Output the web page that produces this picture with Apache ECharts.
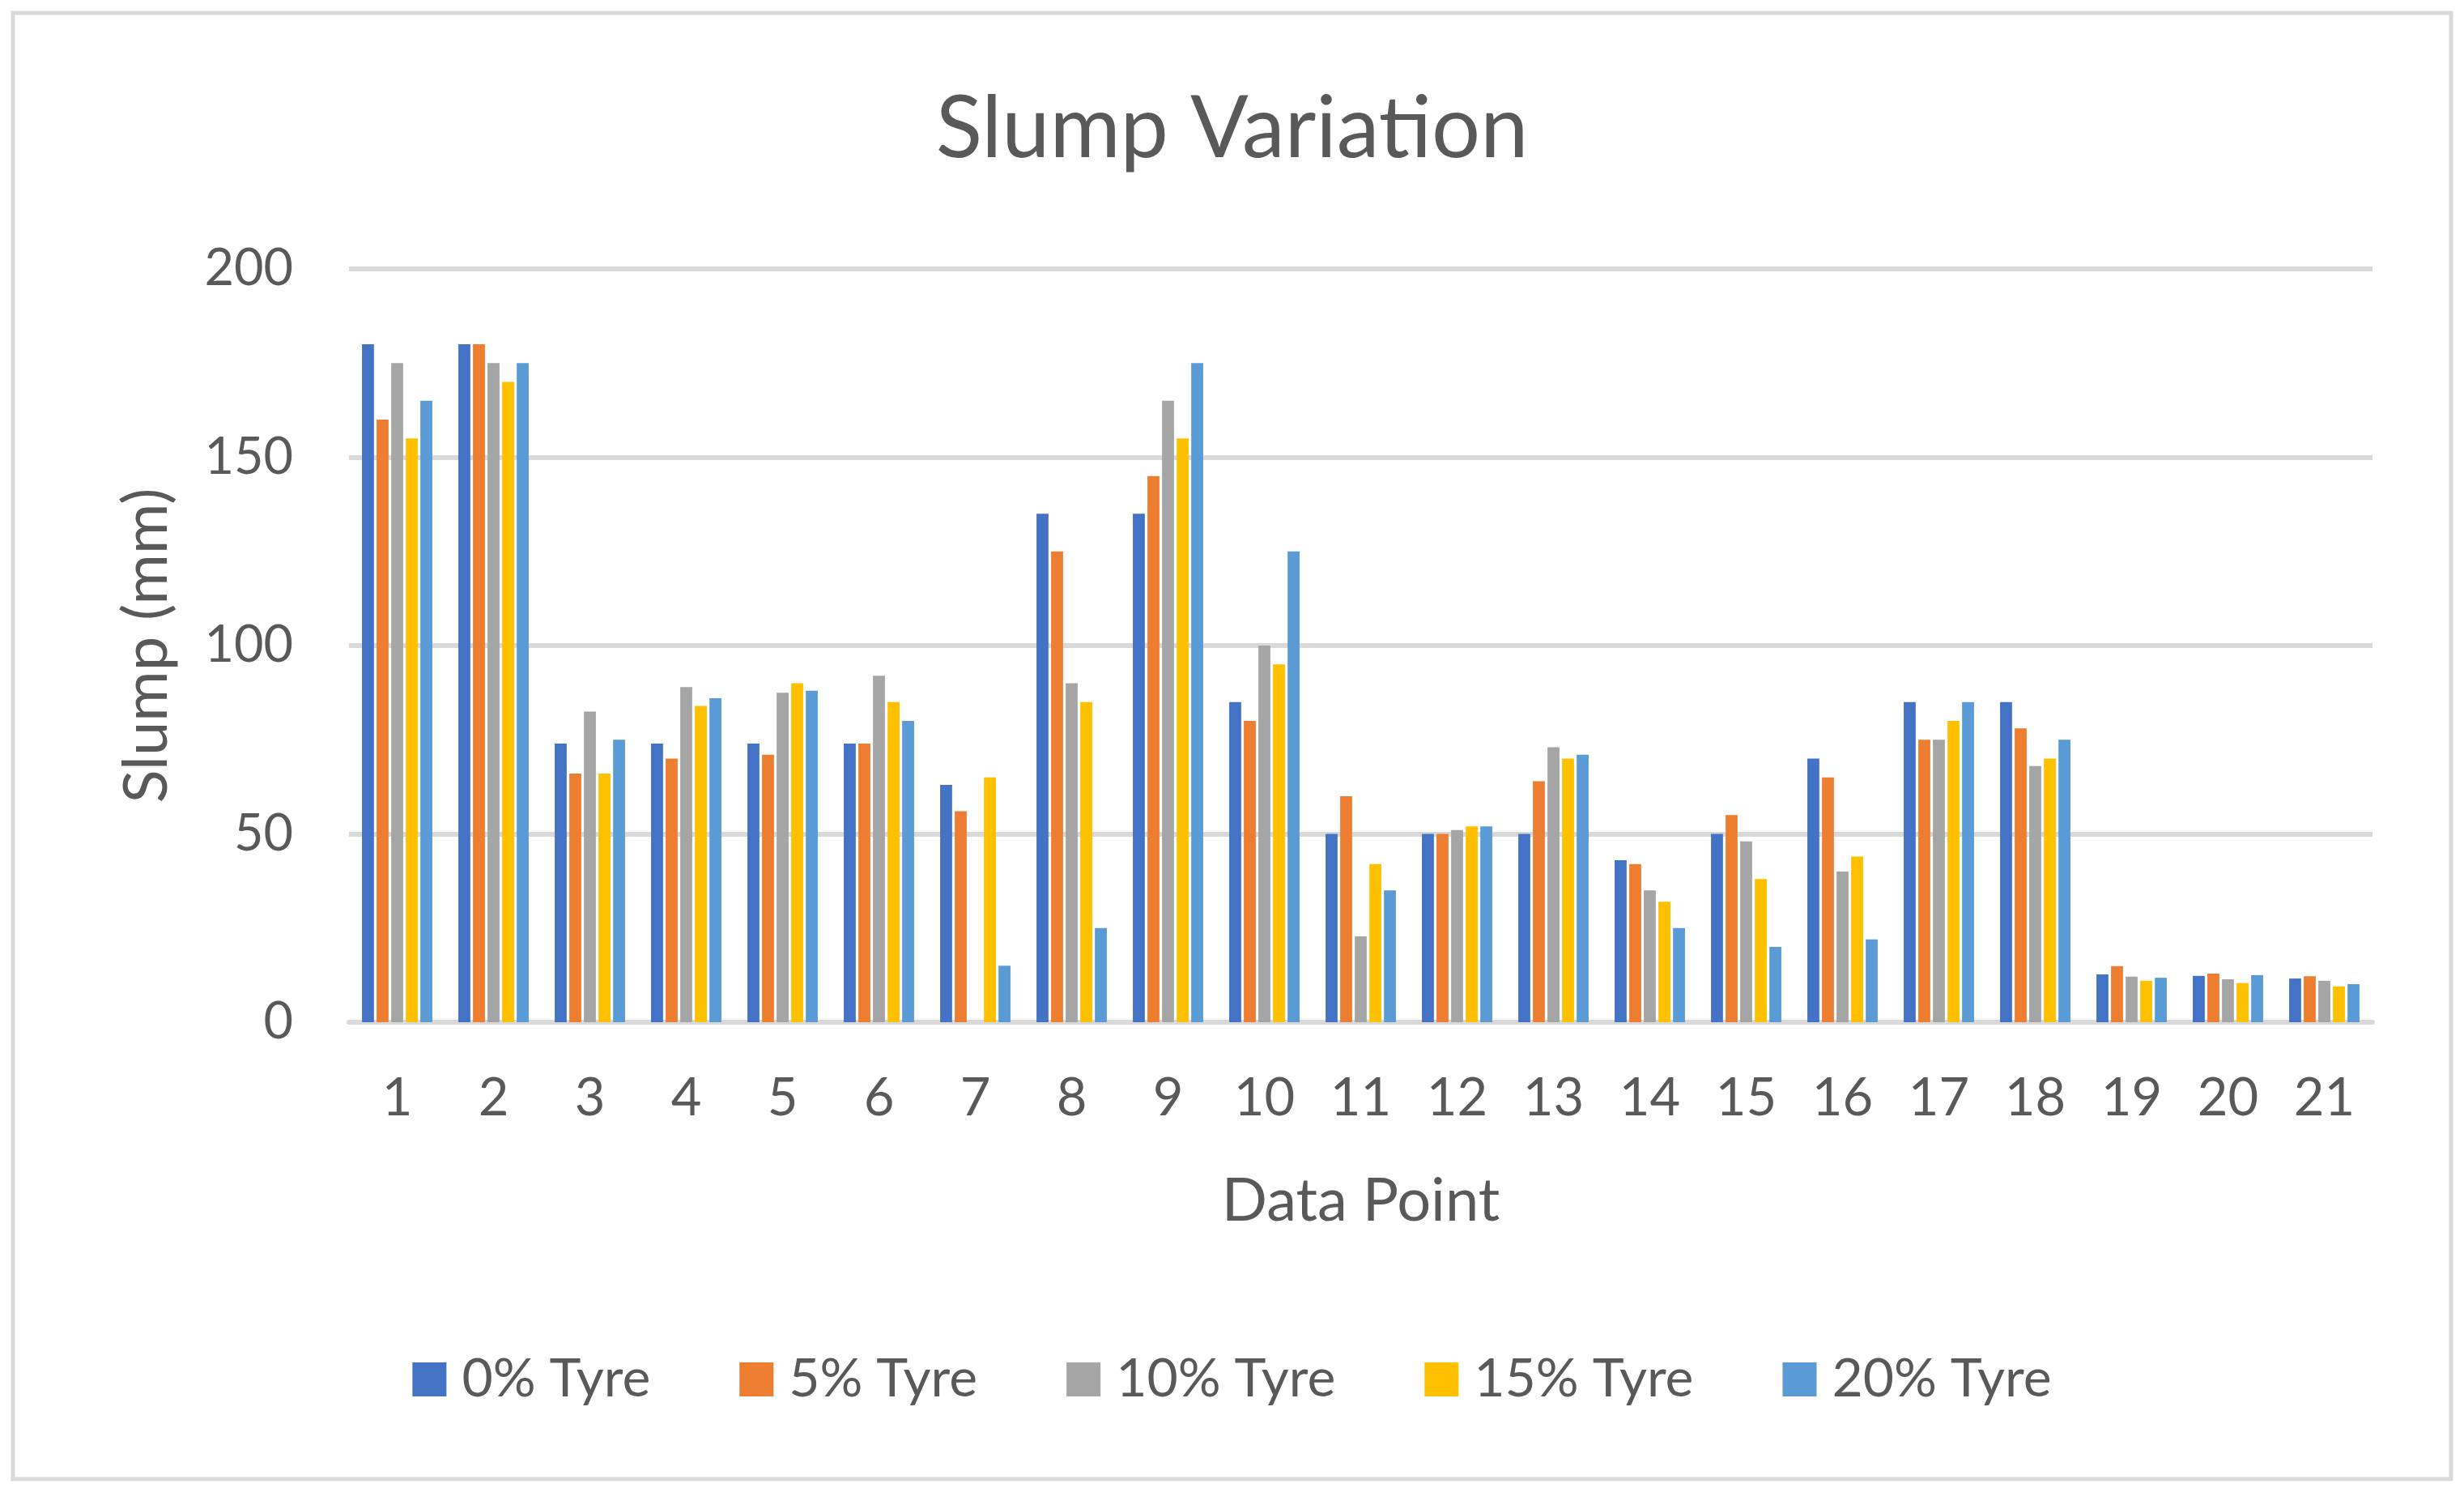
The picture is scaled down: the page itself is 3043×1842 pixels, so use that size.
<!DOCTYPE html>
<html>
<head>
<meta charset="utf-8">
<script src="https://cdn.jsdelivr.net/npm/echarts@6/dist/echarts.min.js"></script>
<style>
html,body{margin:0;padding:0;background:#fff;}
#c{width:3043px;height:1842px;}
</style>
</head>
<body>
<div id="c"></div>
<script>
const categories = ['1','2','3','4','5','6','7','8','9','10','11','12','13','14','15','16','17','18','19','20','21'];
const seriesNames = ['0% Tyre','5% Tyre','10% Tyre','15% Tyre','20% Tyre'];
const tyre0  = [180,180,74,74,74,74,63,135,135,85,50,50,50,43,50,70,85,85,12.7,12.3,11.6];
const tyre5  = [160,180,66,70,71,74,56,125,145,80,60,50,64,42,55,65,75,78,14.9,12.9,12.2];
const tyre10 = [175,175,82.5,89,87.5,92,0,90,165,100,22.8,51,73,35,48,40,75,68,12.1,11.4,11];
const tyre15 = [155,170,66,84,90,85,65,85,155,95,42,52,70,32,38,44,80,70,11,10.4,9.5];
const tyre20 = [165,175,75,86,88,80,15,25,175,125,35,52,71,25,20,22,85,75,11.8,12.5,10.1];
const yTicks = [0,50,100,150,200];
const colors = ['#4472C4','#ED7D31','#A5A5A5','#FFC000','#5B9BD5'];
const allData = [tyre0,tyre5,tyre10,tyre15,tyre20];

const FONT = 'Lato';
const TXT = '#595959';
const chart = echarts.init(document.getElementById('c'));
chart.setOption({
  backgroundColor:'#fff',
  animation:false,
  color: colors,
  title:{
    text:'Slump Variation',
    left:'center',
    top:102,
    textStyle:{fontFamily:FONT,fontSize:106,fontWeight:'normal',color:TXT}
  },
  legend:{
    data: seriesNames,
    bottom: 101,
    left:'center',
    itemWidth:42,
    itemHeight:42,
    itemGap:110,
    icon:'rect',
    textStyle:{fontFamily:FONT,fontSize:66,color:TXT,padding:[0,0,0,14]}
  },
  graphic:[{
    type:'rect',
    shape:{x:16,y:16,width:3011,height:1810},
    style:{fill:'none',stroke:'#d9d9d9',lineWidth:5},
    silent:true
  }],
  grid:{left:431,right:113,top:332,bottom:580,containLabel:false},
  xAxis:{
    type:'category',
    data:categories,
    name:'Data Point',
    nameLocation:'middle',
    nameGap:184,
    nameTextStyle:{fontFamily:FONT,fontSize:74,color:TXT},
    axisLine:{show:true,lineStyle:{color:'#d9d9d9',width:6}},
    axisTick:{show:false},
    axisLabel:{fontFamily:FONT,fontSize:65,color:TXT,margin:62}
  },
  yAxis:{
    type:'value',
    min:yTicks[0],
    max:yTicks[yTicks.length-1],
    interval:50,
    name:'Slump (mm)',
    nameLocation:'middle',
    nameGap:212,
    nameTextStyle:{fontFamily:FONT,fontSize:76,color:TXT},
    axisLine:{show:false},
    axisTick:{show:false},
    splitLine:{lineStyle:{color:'#d9d9d9',width:6}},
    axisLabel:{fontFamily:FONT,fontSize:63,color:TXT,margin:69}
  },
  series: seriesNames.map((n,i)=>({
    name:n,
    type:'bar',
    data:allData[i],
    barGap:'22%',
    barCategoryGap:'27%',
    itemStyle:{color:colors[i]}
  }))
});
</script>
</body>
</html>
